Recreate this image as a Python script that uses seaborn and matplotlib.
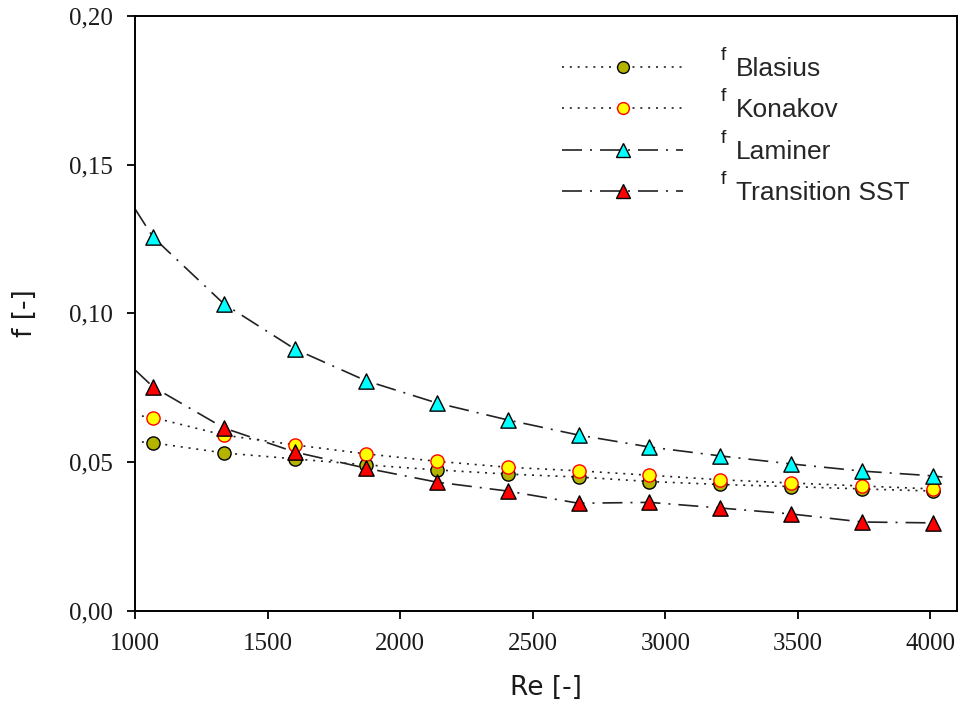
import numpy as np
import pandas as pd
import matplotlib
matplotlib.use("Agg")
import matplotlib.pyplot as plt
from matplotlib.lines import Line2D
import seaborn as sns

# data
re_pts = [1068, 1335, 1603, 1870, 2138, 2405, 2673, 2940, 3208, 3475, 3743, 4010]
f_blasius = [0.0565, 0.0531, 0.0511, 0.0491, 0.0474, 0.0460, 0.0450, 0.0435, 0.0425, 0.0418, 0.0410, 0.0403]
f_konakov = [0.0650, 0.0591, 0.0558, 0.0528, 0.0503, 0.0483, 0.0471, 0.0456, 0.0441, 0.0430, 0.0420, 0.0410]
f_laminer = [0.1256, 0.1032, 0.0880, 0.0774, 0.0699, 0.0642, 0.0591, 0.0551, 0.0521, 0.0494, 0.0470, 0.0454]
f_sst = [0.0753, 0.0615, 0.0534, 0.0480, 0.0433, 0.0403, 0.0362, 0.0365, 0.0346, 0.0326, 0.0299, 0.0296]

# curve ends (lines run a bit past the markers)
re_start_dot = 1026
re_start_dash = 1000
re_end = 4045
blasius_ends = [0.0568, 0.0401]
konakov_ends = [0.0655, 0.0407]
laminer_ends = [0.1351, 0.0450]
sst_ends = [0.0810, 0.0294]

x_ticks = [1000, 1500, 2000, 2500, 3000, 3500, 4000]
y_ticks = [0.00, 0.05, 0.10, 0.15, 0.20]
y_ticklabels = ["0,00", "0,05", "0,10", "0,15", "0,20"]

sns.set_style("ticks")
plt.rcParams["font.family"] = ["DejaVu Sans"]

fig = plt.figure(figsize=(9.6, 7.12), dpi=100)
ax = fig.add_axes([135 / 960, 1 - 611 / 712, 822 / 960, 595.3 / 712])

dot_ls = (0, (1.2, 3.5))
dash_ls = (0, (12, 4.8, 1.2, 4.8))

series = [
    ("Blasius", f_blasius, blasius_ends, re_start_dot, dot_ls, "o", "#b4b400", "black", 9.5, 3),
    ("Konakov", f_konakov, konakov_ends, re_start_dot, dot_ls, "o", "#ffff00", "#ff0000", 9.5, 4),
    ("Laminer", f_laminer, laminer_ends, re_start_dash, dash_ls, "^", "#00ffff", "black", 11, 5),
    ("Transition SST", f_sst, sst_ends, re_start_dash, dash_ls, "^", "#ff0000", "black", 11, 6),
]

handles = []
for name, vals, ends, x0, ls, mk, fc, ec, ms, z in series:
    line_x = [x0] + re_pts + [re_end]
    line_y = [ends[0]] + vals + [ends[1]]
    sns.lineplot(x=line_x, y=line_y, ax=ax, color="#222222", lw=1.2,
                 linestyle=ls, sort=False, zorder=2)
    sns.scatterplot(x=re_pts, y=vals, ax=ax, marker=mk, s=ms ** 2, color=fc,
                    edgecolor=ec, linewidth=1.0, zorder=z)
    handles.append(Line2D([], [], color="#222222", lw=1.2, linestyle=ls, marker=mk,
                          markersize=ms - 1, markerfacecolor=fc, markeredgecolor=ec,
                          markeredgewidth=1.0))

ax.set_xlim(1000, 4100)
ax.set_ylim(0, 0.20)
ax.set_xticks(x_ticks)
ax.set_xticklabels([str(t) for t in x_ticks])
ax.set_yticks(y_ticks)
ax.set_yticklabels(y_ticklabels)
for lab in ax.get_xticklabels() + ax.get_yticklabels():
    lab.set_family("Liberation Serif")
    lab.set_fontsize(18)
    lab.set_color("#1a1a1a")
ax.tick_params(direction="out", length=6, width=1.3, pad=10, color="black")

for sp in ax.spines.values():
    sp.set_visible(True)
    sp.set_linewidth(1.4)
    sp.set_color("black")

ax.set_xlabel("Re [-]", fontsize=19, color="#1a1a1a", labelpad=14)
ax.set_ylabel("f [-]", fontsize=19, color="#1a1a1a", labelpad=22)

leg = ax.legend(handles, [s[0] for s in series], loc="upper left",
                bbox_to_anchor=(562 / 960, 655 / 712), bbox_transform=fig.transFigure,
                frameon=False, prop={"family": "Liberation Sans", "size": 19},
                handlelength=4.6, handletextpad=2.0, labelspacing=0.66,
                borderpad=0, borderaxespad=0, numpoints=1)

# the small "f" in front of each subscript label
fig.canvas.draw()
renderer = fig.canvas.get_renderer()
for t in leg.get_texts():
    bb = t.get_window_extent(renderer)
    fig.text((bb.x0 - 15) / 960, (bb.y0 + 21) / 712, "f", family="Liberation Sans",
             fontsize=14, color="#1a1a1a", va="baseline", ha="left")

fig.savefig("out.png", dpi=100)
